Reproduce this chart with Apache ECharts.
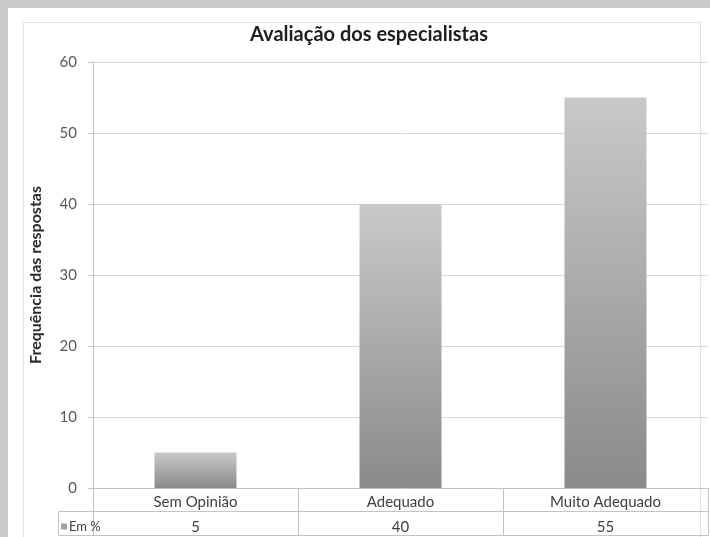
<!DOCTYPE html>
<html>
<head>
<meta charset="utf-8">
<script src="https://cdn.jsdelivr.net/npm/echarts@6/dist/echarts.min.js"></script>
<style>
  html, body { margin: 0; padding: 0; width: 710px; height: 537px; background: #c9c9c9; overflow: hidden; }
  #chart { position: absolute; left: 8px; top: 8px; width: 702px; height: 529px; background: #ffffff; }
</style>
</head>
<body>
<div id="chart"></div>
<script>
// Survey answers, in percent
const categories = ['Sem Opinião', 'Adequado', 'Muito Adequado'];
const values = [5, 40, 55];
const seriesName = 'Em %';
const yMin = 0;
const yMax = 60;
const yStep = 10;

const FONT = 'Lato, "Open Sans", sans-serif';
const LINE = '#c4c4c4';

const chart = echarts.init(document.getElementById('chart'), null, { renderer: 'canvas' });

chart.setOption({
  animation: false,
  textStyle: { fontFamily: FONT },
  title: {
    text: 'Avaliação dos especialistas',
    left: 356,
    textAlign: 'center',
    top: 12,
    textStyle: { fontFamily: FONT, fontSize: 20, fontWeight: 'bold', color: '#1e1e1e' }
  },
  legend: {
    data: [seriesName],
    left: 53,
    top: 512,
    itemWidth: 6,
    itemHeight: 6,
    itemGap: 4,
    icon: 'rect',
    padding: 0,
    itemStyle: { color: '#a3a3a3' },
    textStyle: { fontFamily: FONT, fontSize: 13, color: '#404040', padding: [0, 0, 0, -3] }
  },
  grid: { left: 85, top: 54, width: 615, height: 426, containLabel: false },
  xAxis: [
    {
      type: 'category',
      data: categories,
      position: 'bottom',
      axisLine: { lineStyle: { color: LINE } },
      axisTick: { show: true, length: 23, lineStyle: { color: LINE } },
      axisLabel: { margin: 7, fontSize: 15, color: '#404040', fontFamily: FONT }
    },
    {
      // value row of the data table
      type: 'category',
      data: categories,
      position: 'bottom',
      offset: 23,
      axisLine: { lineStyle: { color: LINE } },
      axisTick: { show: true, length: 24, lineStyle: { color: LINE } },
      axisLabel: {
        margin: 9, fontSize: 15, color: '#404040', fontFamily: FONT,
        formatter: (v, i) => String(values[i])
      }
    },
    {
      // bottom border of the data table
      type: 'category',
      data: categories,
      position: 'bottom',
      offset: 47,
      axisLine: { lineStyle: { color: LINE } },
      axisTick: { show: false },
      axisLabel: { show: false }
    }
  ],
  yAxis: {
    type: 'value',
    min: yMin,
    max: yMax,
    interval: yStep,
    name: 'Frequência das respostas',
    nameLocation: 'middle',
    nameGap: 49,
    nameTextStyle: { fontFamily: FONT, fontSize: 16, fontWeight: 'bold', color: '#2a2a2a' },
    axisLine: { show: true, lineStyle: { color: LINE } },
    axisTick: { show: true, length: 5, lineStyle: { color: LINE } },
    axisLabel: { margin: 16, fontSize: 15, color: '#595959', fontFamily: FONT },
    splitLine: { lineStyle: { color: '#d9d9d9' } }
  },
  series: [{
    name: seriesName,
    type: 'bar',
    xAxisIndex: 0,
    data: values,
    barCategoryGap: '60%',
    itemStyle: {
      color: new echarts.graphic.LinearGradient(0, 0, 0, 1, [
        { offset: 0, color: '#c9c9c9' },
        { offset: 1, color: '#8a8a8a' }
      ])
    }
  }],
  graphic: [
    // chart area border
    { type: 'rect', silent: true, z: -1, shape: { x: 15.5, y: 14.5, width: 677, height: 600 },
      style: { fill: null, stroke: '#e4e4e4', lineWidth: 1 } },
    // legend cell of the data table
    { type: 'line', silent: true, shape: { x1: 50.5, y1: 503.5, x2: 85, y2: 503.5 }, style: { stroke: LINE, lineWidth: 1 } },
    { type: 'line', silent: true, shape: { x1: 50.5, y1: 527.5, x2: 85, y2: 527.5 }, style: { stroke: LINE, lineWidth: 1 } },
    { type: 'line', silent: true, shape: { x1: 50.5, y1: 503.5, x2: 50.5, y2: 527.5 }, style: { stroke: LINE, lineWidth: 1 } },
    { type: 'line', silent: true, shape: { x1: 85.5, y1: 503.5, x2: 85.5, y2: 527.5 }, style: { stroke: LINE, lineWidth: 1 } }
  ]
});
</script>
</body>
</html>
